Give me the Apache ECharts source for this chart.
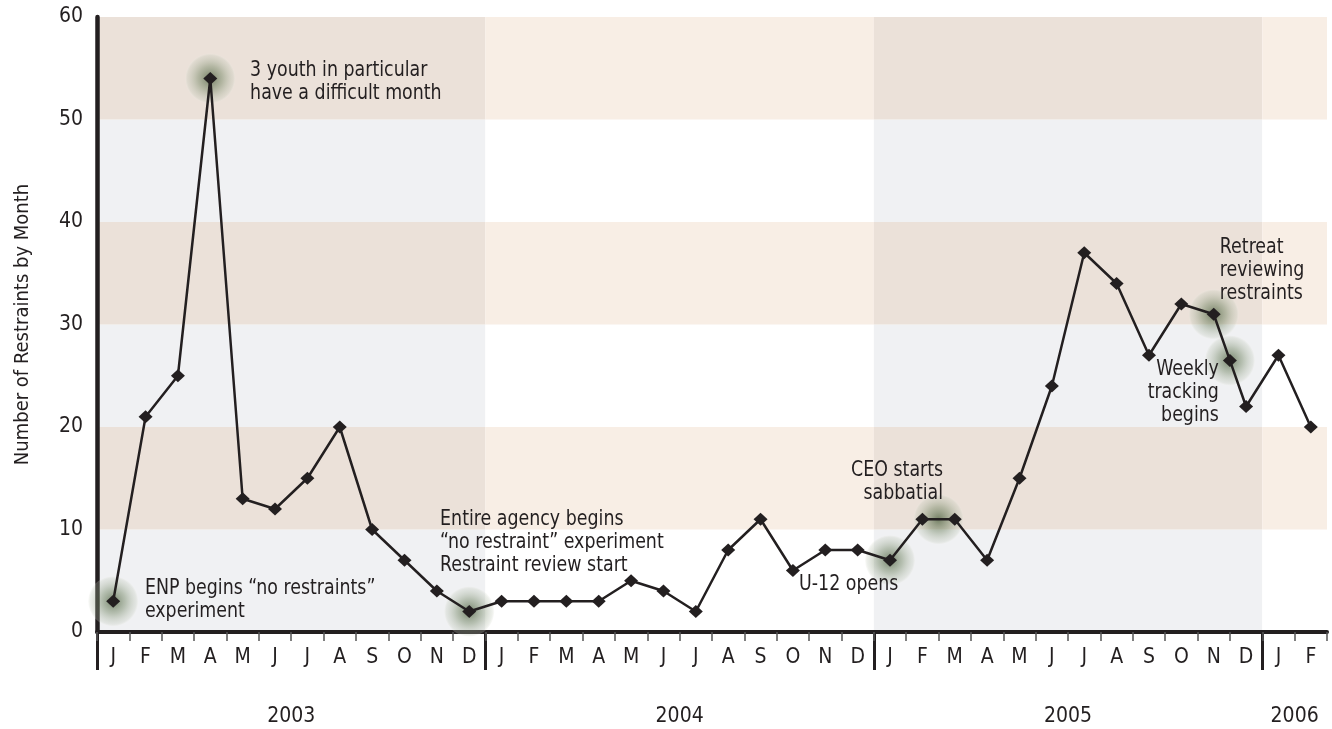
<!DOCTYPE html>
<html>
<head>
<meta charset="utf-8">
<title>Number of Restraints by Month</title>
<script src="https://cdn.jsdelivr.net/npm/echarts@6/dist/echarts.min.js"></script>
<style>
  html, body { margin: 0; padding: 0; background: #ffffff; }
  #chart { width: 1332px; height: 729px; }
</style>
</head>
<body>
<div id="chart"></div>
<script>
// Month initials, Jan 2003 through Feb 2006
const monthLabels = [
  'J','F','M','A','M','J','J','A','S','O','N','D',
  'J','F','M','A','M','J','J','A','S','O','N','D',
  'J','F','M','A','M','J','J','A','S','O','N','D',
  'J','F'
];
const yearLabels = ['2003', '2004', '2005', '2006'];
const yearFirstMonth = [0, 12, 24, 36];
const yearMonthCount = [12, 12, 12, 2];

// Restraints per month
const monthlyRestraints = [
  3, 21, 25, 54, 13, 12, 15, 20, 10, 7, 4, 2,
  3, 3, 3, 3, 5, 4, 2, 8, 11, 6, 8, 8,
  7, 11, 11, 7, 15, 24, 37, 34, 27, 32, 31, 22,
  27, 20
];
// Mid-month reading taken when weekly tracking began (late Nov 2005)
const weeklyPoint = [34.5, 26.5];

// Highlighted events (month position, value)
const highlightPoints = [
  [0, 3], [3, 54], [11, 2], [24, 7], [25.5, 11], [34, 31], [34.5, 26.5]
];

// Event notes, anchored in data space (month position, value at top of text)
const notes = [
  { text: '3 youth in particular\nhave a difficult month', x: 4.23, y: 55.9, align: 'left' },
  { text: 'ENP begins \u201cno restraints\u201d\nexperiment', x: 0.98, y: 5.35, align: 'left' },
  { text: 'Entire agency begins\n\u201cno restraint\u201d experiment\nRestraint review start', x: 10.1, y: 12.1, align: 'left' },
  { text: 'U-12 opens', x: 21.19, y: 5.75, align: 'left' },
  { text: 'CEO starts\nsabbatial', x: 25.64, y: 16.9, align: 'right' },
  { text: 'Retreat\nreviewing\nrestraints', x: 34.19, y: 38.7, align: 'left' },
  { text: 'Weekly\ntracking\nbegins', x: 34.16, y: 26.8, align: 'right' }
];

// Horizontal shading bands every 10 units; alternate years use the deeper tones
const bandStep = 10;
const bandCount = 6;
const deepTones = ['#f0f1f3', '#ebe1d9'];
const paleTones = ['#ffffff', '#f8eee5'];

const FONT = '"DejaVu Sans Condensed", "Liberation Sans Narrow", Arial, sans-serif';
const INK = '#231f20';

const lineData = monthlyRestraints.map((v, i) => [i, v]);
lineData.splice(35, 0, weeklyPoint);

const bandData = [];
yearFirstMonth.forEach((start, yi) => {
  const tones = yi % 2 === 0 ? deepTones : paleTones;
  for (let b = 0; b < bandCount; b++) {
    bandData.push([start - 0.5, start + yearMonthCount[yi] - 0.5, b * bandStep, (b + 1) * bandStep, tones[b % 2]]);
  }
});

const yearCenters = yearFirstMonth.map((s, i) => s - 0.5 + yearMonthCount[i] / 2);
const yearBoundaries = yearFirstMonth.map(s => s - 0.5);

const chart = echarts.init(document.getElementById('chart'), null, { renderer: 'canvas' });

chart.setOption({
  backgroundColor: '#ffffff',
  animation: false,
  textStyle: { fontFamily: FONT, color: INK },
  grid: { left: 97, right: 5, top: 17, bottom: 97 },
  xAxis: [
    {
      type: 'value',
      min: -0.5,
      max: monthLabels.length - 0.5,
      position: 'bottom',
      axisLine: { show: false, onZero: false },
      splitLine: { show: false },
      axisTick: {
        show: true,
        customValues: yearBoundaries,
        length: 38,
        lineStyle: { color: INK, width: 3 }
      },
      axisLabel: {
        customValues: yearCenters,
        formatter: v => yearLabels[yearCenters.findIndex(c => Math.abs(c - v) < 0.01)] || '',
        margin: 74,
        fontSize: 21,
        fontFamily: FONT,
        color: INK
      }
    },
    {
      type: 'category',
      data: monthLabels,
      boundaryGap: true,
      position: 'bottom',
      axisLine: { show: true, onZero: false, lineStyle: { color: INK, width: 4 } },
      axisTick: { show: true, interval: 0, length: 9, lineStyle: { color: '#555', width: 1.5 } },
      axisLabel: { interval: 0, margin: 15, fontSize: 21, fontFamily: FONT, color: INK },
      splitLine: { show: false }
    }
  ],
  yAxis: {
    type: 'value',
    min: 0,
    max: 60,
    interval: 10,
    name: 'Number of Restraints by Month',
    nameLocation: 'middle',
    nameGap: 64,
    nameTextStyle: { fontSize: 20, fontFamily: FONT, color: INK },
    axisLine: { show: true, onZero: false, lineStyle: { color: INK, width: 4.5 } },
    axisTick: { show: false },
    splitLine: { show: false },
    axisLabel: { fontSize: 21, margin: 14, fontFamily: FONT, color: INK }
  },
  series: [
    {
      name: 'bands',
      type: 'custom',
      z: 0,
      silent: true,
      data: bandData,
      renderItem: (params, api) => {
        const p0 = api.coord([api.value(0), api.value(3)]);
        const p1 = api.coord([api.value(1), api.value(2)]);
        return {
          type: 'rect',
          shape: { x: p0[0], y: p0[1], width: p1[0] - p0[0], height: p1[1] - p0[1] },
          style: { fill: bandData[params.dataIndex][4] }
        };
      }
    },
    {
      name: 'highlights',
      type: 'scatter',
      z: 1,
      silent: true,
      symbol: 'circle',
      symbolSize: 50,
      data: highlightPoints,
      itemStyle: {
        color: {
          type: 'radial', x: 0.5, y: 0.5, r: 0.5,
          colorStops: [
            { offset: 0, color: 'rgba(72,92,58,0.92)' },
            { offset: 0.5, color: 'rgba(110,130,95,0.55)' },
            { offset: 0.92, color: 'rgba(185,194,176,0.32)' },
            { offset: 1, color: 'rgba(235,236,228,0.28)' }
          ]
        }
      }
    },
    {
      name: 'Restraints',
      type: 'line',
      z: 3,
      data: lineData,
      symbol: 'diamond',
      symbolSize: [14, 13],
      lineStyle: { color: INK, width: 2.5 },
      itemStyle: { color: INK }
    }
  ]
});

// Event notes placed from their data-space anchors, set in a narrow face
const noteGraphics = notes.map(n => {
  const p = chart.convertToPixel({ xAxisIndex: 0, yAxisIndex: 0 }, [n.x, n.y]);
  return {
    type: 'text',
    x: p[0],
    y: p[1],
    scaleX: 0.88,
    z: 10,
    silent: true,
    style: {
      text: n.text,
      fill: INK,
      fontSize: 22,
      fontFamily: FONT,
      lineHeight: 23,
      textAlign: n.align,
      textVerticalAlign: 'top'
    }
  };
});
chart.setOption({ graphic: noteGraphics });
</script>
</body>
</html>
